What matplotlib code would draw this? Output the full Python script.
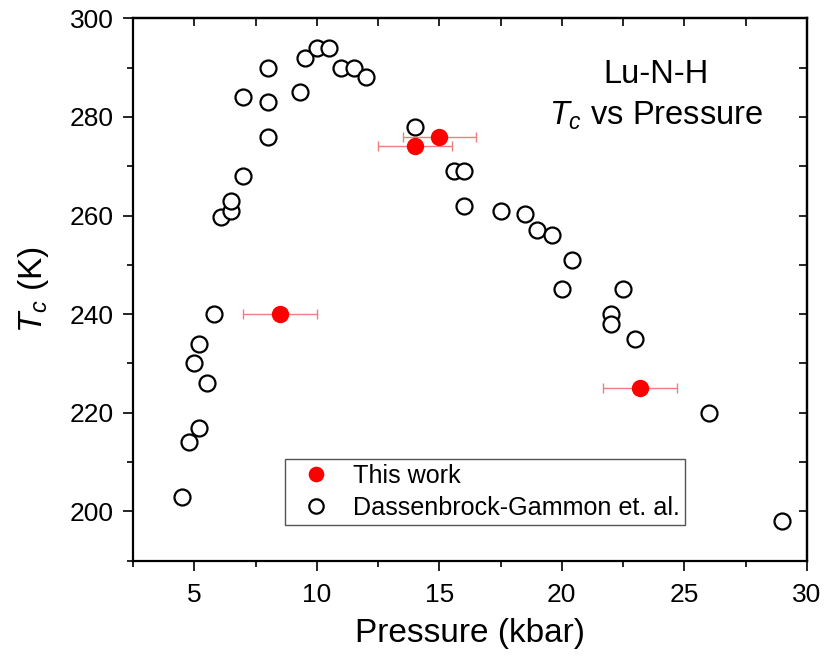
import matplotlib
matplotlib.use('Agg')
import matplotlib.pyplot as plt

plt.rcParams['font.family'] = ['Liberation Sans', 'DejaVu Sans']
plt.rcParams['mathtext.fontset'] = 'custom'
plt.rcParams['mathtext.rm'] = 'Liberation Sans'
plt.rcParams['mathtext.it'] = 'Liberation Sans:italic'

# This work (red, with pressure error bars)
p_this = [8.5, 14.0, 15.0, 23.2]
tc_this = [240, 274, 276, 225]
p_err = [1.5, 1.5, 1.5, 1.5]

# Dassenbrock-Gammon et. al.
p_dg = [4.5, 4.8, 5.2, 5.5, 5.0, 5.2, 5.8, 6.1, 6.5, 6.5, 7.0, 7.0, 8.0, 8.0, 8.0,
        9.3, 9.5, 10.0, 10.5, 11.0, 11.5, 12.0, 14.0, 15.6, 16.0, 16.0, 17.5, 18.5,
        19.0, 19.6, 20.4, 20.0, 22.5, 22.0, 22.0, 23.0, 26.0, 29.0]
tc_dg = [203, 214, 217, 226, 230, 234, 240, 259.7, 261, 263, 268, 284, 276, 283, 290,
         285, 292, 294, 294, 290, 290, 288, 278, 269, 269, 262, 261, 260.3,
         257, 256, 251, 245, 245, 240, 238, 235, 220, 198]

fig = plt.figure(figsize=(8.25, 6.6), dpi=100)
ax = fig.add_axes([0.1612, 0.1505, 0.8168, 0.8218])

ax.plot(p_dg, tc_dg, linestyle='none', marker='o', markersize=11.5,
        markerfacecolor='white', markeredgecolor='black', markeredgewidth=1.6,
        label='Dassenbrock-Gammon et. al.', zorder=2)
ax.errorbar(p_this, tc_this, xerr=p_err, fmt='none', ecolor='#f47c7c',
            elinewidth=1.0, capsize=3.5, capthick=1.0, zorder=3)
ax.plot(p_this, tc_this, linestyle='none', marker='o', markersize=12.5,
        color='#ff0000', markeredgewidth=0, label='This work', zorder=4)

ax.set_xlim(2.5, 30)
ax.set_ylim(190, 300)
ax.set_xticks([5, 10, 15, 20, 25, 30])
ax.set_xticks([2.5, 7.5, 12.5, 17.5, 22.5, 27.5], minor=True)
ax.set_yticks([200, 220, 240, 260, 280, 300])
ax.set_yticks([190, 210, 230, 250, 270, 290], minor=True)

for s in ax.spines.values():
    s.set_linewidth(1.6)

ax.tick_params(which='major', direction='out', length=7, width=1.2,
               labelsize=19, pad=7, top=False, right=False)
ax.tick_params(axis='x', which='major', pad=9)
ax.tick_params(which='minor', direction='out', length=4, width=1.2,
               top=False, right=False)

sec_x = ax.secondary_xaxis('top')
sec_x.set_xticks([5, 10, 15, 20, 25, 30])
sec_x.set_xticks([2.5, 7.5, 12.5, 17.5, 22.5, 27.5], minor=True)
sec_x.tick_params(which='both', direction='in', length=6, width=1.2, labeltop=False)
sec_x.spines['top'].set_linewidth(1.6)

sec_y = ax.secondary_yaxis('right')
sec_y.set_yticks([200, 220, 240, 260, 280, 300])
sec_y.set_yticks([190, 210, 230, 250, 270, 290], minor=True)
sec_y.tick_params(which='both', direction='in', length=6, width=1.2, labelright=False)
sec_y.spines['right'].set_linewidth(1.6)

ax.set_xlabel('Pressure (kbar)', fontsize=24, labelpad=8)
ax.set_ylabel('$T_c$ (K)', fontsize=24, labelpad=13)

ax.text(23.86, 288.7, 'Lu-N-H', fontsize=23.5, ha='center', va='center')
ax.text(23.86, 280.3, '$T_c$ vs Pressure', fontsize=23.5, ha='center', va='center')

handles, labels = ax.get_legend_handles_labels()
leg = ax.legend(handles[::-1], labels[::-1], loc='upper left',
                bbox_to_anchor=(0.2255, 0.1875), borderaxespad=0,
                fontsize=18.1, frameon=True, fancybox=False, framealpha=1,
                edgecolor='#555555', borderpad=0.2, handlelength=2.1,
                handletextpad=0.4, labelspacing=0.33, markerscale=0.9)
leg.get_frame().set_linewidth(1.0)

plt.savefig('out.png', dpi=100)
